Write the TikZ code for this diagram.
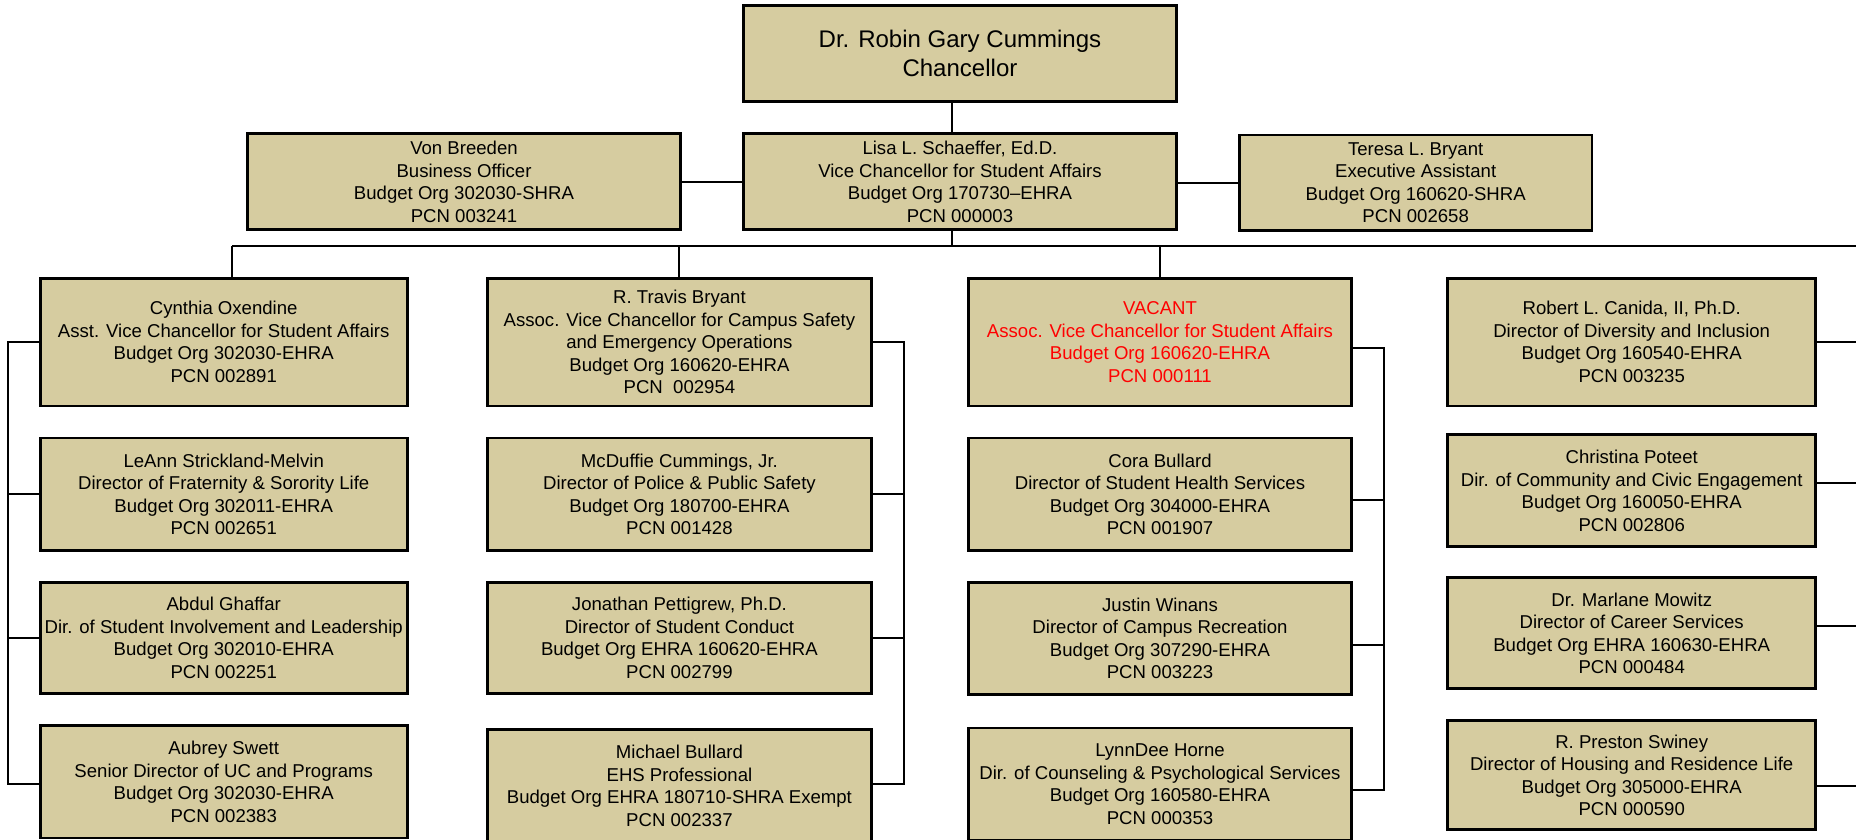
\documentclass[tikz,border=0pt]{standalone}
\usepackage{fontspec}
\setmainfont{Liberation Sans}
\usetikzlibrary{calc}
\definecolor{boxfill}{RGB}{214,204,160}
\definecolor{vacred}{RGB}{255,0,0}
\tikzset{
  box/.style={draw=black, fill=boxfill, line width=2.4pt, inner sep=0pt, align=center,
              font=\fontsize{15.7}{19}\selectfont},
  bigbox/.style={box, font=\fontsize{20.3}{24.5}\selectfont},
  conn/.style={draw=black, line width=1.7pt},
}
\begin{document}
\begin{tikzpicture}[x=1pt,y=-1pt]
\clip (0,0) rectangle (1568,709);
\fill[white] (0,0) rectangle (1568,709);
% coordinates for connector routing
\coordinate (trunk) at (804,208);
\coordinate (busL) at (196,208);
\coordinate (busR) at (1590,208);
\coordinate (s1) at (7,0);
\coordinate (s2) at (764,0);
\coordinate (s3) at (1169,0);
\coordinate (s4) at (1590,0);
% top
\node[bigbox, minimum width=366pt, minimum height=81pt] (chan) at (811,45.5) {Dr. Robin Gary Cummings\\Chancellor};
\node[box, minimum width=366pt, minimum height=81pt] (vc) at (811,153.5) {Lisa L. Schaeffer, Ed.D.\\Vice Chancellor for Student Affairs\\Budget Org 170730–EHRA\\PCN 000003};
\node[box, minimum width=366pt, minimum height=81pt] (von) at (392,153.5) {Von Breeden\\Business Officer\\Budget Org 302030-SHRA\\PCN 003241};
\node[box, minimum width=298pt, minimum height=81pt] (ter) at (1196,154.5) {Teresa L. Bryant\\Executive Assistant\\Budget Org 160620-SHRA\\PCN 002658};
% column 1
\node[box, minimum width=310pt, minimum height=108pt] (cyn) at (189,289) {Cynthia Oxendine\\Asst. Vice Chancellor for Student Affairs\\Budget Org 302030-EHRA\\PCN 002891};
\node[box, minimum width=310pt, minimum height=95pt] (lea) at (189,417.5) {LeAnn Strickland-Melvin\\Director of Fraternity \& Sorority Life\\Budget Org 302011-EHRA\\PCN 002651};
\node[box, minimum width=310pt, minimum height=94pt] (abd) at (189,539) {Abdul Ghaffar\\Dir. of Student Involvement and Leadership\\Budget Org 302010-EHRA\\PCN 002251};
\node[box, minimum width=310pt, minimum height=95pt] (aub) at (189,660.5) {Aubrey Swett\\Senior Director of UC and Programs\\Budget Org 302030-EHRA\\PCN 002383};
% column 2
\node[box, minimum width=324pt, minimum height=108pt] (trav) at (574,289) {R. Travis Bryant\\Assoc. Vice Chancellor for Campus Safety\\and Emergency Operations\\Budget Org 160620-EHRA\\PCN\ \ 002954};
\node[box, minimum width=324pt, minimum height=95pt] (mcd) at (574,417.5) {McDuffie Cummings, Jr.\\Director of Police \& Public Safety\\Budget Org 180700-EHRA\\PCN 001428};
\node[box, minimum width=324pt, minimum height=94pt] (jon) at (574,539) {Jonathan Pettigrew, Ph.D.\\Director of Student Conduct\\Budget Org EHRA 160620-EHRA\\PCN 002799};
\node[box, minimum width=324pt, minimum height=96pt] (mic) at (574,664) {Michael Bullard\\EHS Professional\\Budget Org EHRA 180710-SHRA Exempt\\PCN 002337};
% column 3
\node[box, minimum width=324pt, minimum height=108pt, text=vacred] (vac) at (980,289) {VACANT\\Assoc. Vice Chancellor for Student Affairs\\Budget Org 160620-EHRA\\PCN 000111};
\node[box, minimum width=324pt, minimum height=95pt] (cora) at (980,417.5) {Cora Bullard\\Director of Student Health Services\\Budget Org 304000-EHRA\\PCN 001907};
\node[box, minimum width=324pt, minimum height=95pt] (jus) at (980,539.5) {Justin Winans\\Director of Campus Recreation\\Budget Org 307290-EHRA\\PCN 003223};
\node[box, minimum width=324pt, minimum height=95pt] (lyn) at (980,662.5) {LynnDee Horne\\Dir. of Counseling \& Psychological Services\\Budget Org 160580-EHRA\\PCN 000353};
% column 4
\node[box, minimum width=311pt, minimum height=108pt] (rob) at (1378.5,289) {Robert L. Canida, II, Ph.D.\\Director of Diversity and Inclusion\\Budget Org 160540-EHRA\\PCN 003235};
\node[box, minimum width=311pt, minimum height=95pt] (chr) at (1378.5,414.5) {Christina Poteet\\Dir. of Community and Civic Engagement\\Budget Org 160050-EHRA\\PCN 002806};
\node[box, minimum width=311pt, minimum height=94pt] (mar) at (1378.5,535) {Dr. Marlane Mowitz\\Director of Career Services\\Budget Org EHRA 160630-EHRA\\PCN 000484};
\node[box, minimum width=311pt, minimum height=92pt] (pre) at (1378.5,655) {R. Preston Swiney\\Director of Housing and Residence Life\\Budget Org 305000-EHRA\\PCN 000590};
% connectors top
\draw[conn] (chan.south -| trunk) -- (vc.north -| trunk);
\draw[conn] (von.east) -- (von.east -| vc.west);
\draw[conn] (vc.east |- ter.west) -- (ter.west);
\draw[conn] (vc.south -| trunk) -- (trunk);
\draw[conn] (busL) -- (busR);
\draw[conn] (busL) -- (busL |- cyn.north);
\draw[conn] (trav.north |- busL) -- (trav.north);
\draw[conn] (vac.north |- busL) -- (vac.north);
% column 1 spine (left)
\draw[conn] (cyn.west) -- (cyn.west -| s1) -- ([yshift=-1.5pt]aub.west -| s1) -- ([yshift=-1.5pt]aub.west);
\draw[conn] (lea.west) -- (lea.west -| s1);
\draw[conn] (abd.west) -- (abd.west -| s1);
% column 2 spine (right)
\draw[conn] (trav.east) -- (trav.east -| s2) -- ([yshift=2pt]mic.east -| s2) -- ([yshift=2pt]mic.east);
\draw[conn] (mcd.east) -- (mcd.east -| s2);
\draw[conn] (jon.east) -- (jon.east -| s2);
% column 3 spine (right)
\draw[conn] ([yshift=-5pt]vac.east) -- ([yshift=-5pt]vac.east -| s3) -- ([yshift=-4.5pt]lyn.east -| s3) -- ([yshift=-4.5pt]lyn.east);
\draw[conn] ([yshift=-5pt]cora.east) -- ([yshift=-5pt]cora.east -| s3);
\draw[conn] ([yshift=-5.5pt]jus.east) -- ([yshift=-5.5pt]jus.east -| s3);
% column 4 stubs (to the right, beyond the frame)
\draw[conn] (rob.east) -- (rob.east -| s4);
\draw[conn] ([yshift=6.5pt]chr.east) -- ([yshift=6.5pt]chr.east -| s4);
\draw[conn] ([yshift=6pt]mar.east) -- ([yshift=6pt]mar.east -| s4);
\draw[conn] ([yshift=-9pt]pre.east) -- ([yshift=-9pt]pre.east -| s4);
\end{tikzpicture}
\end{document}
